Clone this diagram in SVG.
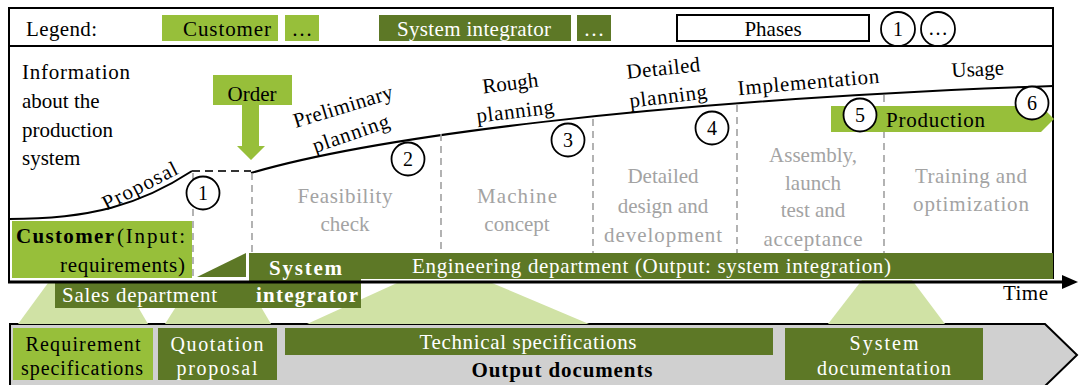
<svg xmlns="http://www.w3.org/2000/svg" width="1079" height="385" viewBox="0 0 1079 385">
<style>
text{font-family:Liberation Serif,Times New Roman,Times,DejaVu Serif,serif;font-size:21px;fill:#000}
.w{fill:#fff}
.g{fill:#a3a3a3}
.b{font-weight:bold}
.m{text-anchor:middle}
.e{text-anchor:end}
.lg{fill:#97bf3a}
.dg{fill:#5d7826}
.pg{fill:#d0e2a5}
.dash{stroke:#a0a0a0;stroke-width:1.6;stroke-dasharray:7 5;fill:none}
.circ{fill:#fff;stroke:#000;stroke-width:1.8}
.num{font-size:20px;text-anchor:middle}
.s20{font-size:20px}
</style>
<rect width="1079" height="385" fill="#fff"/>

<g id="output-band">
<path d="M10 386 V324 H1045 L1077 355 L1045 386 Z" fill="#d0d0d0"/>
<path d="M10 386 V324 H1045 L1077 355 L1045 386" fill="none" stroke="#000" stroke-width="2"/>
<text x="562" y="377" class="m b" textLength="181">Output documents</text>
</g>

<g id="connectors">
<polygon class="pg" points="48,283 124,283 148,324 18,324"/>
<polygon class="pg" points="191,283 247,283 271,324 165,324"/>
<polygon class="pg" points="397,283 492,283 589,324 307,324"/>
<polygon class="pg" points="862,280 912,280 945,324 828,324"/>
<path d="M9 219 C90 219 140 205 192 171" stroke="#000" stroke-width="2" fill="none"/>
<path d="M192 171 H251" stroke="#333" stroke-width="2" stroke-dasharray="8 5" fill="none"/>
<path d="M251 173 C370 138 650 100 1053 86" stroke="#000" stroke-width="2" fill="none"/>
<path class="dash" d="M193 173 V277 M252 173 V253 M441 134 V253 M593 119 V253 M737 105 V253 M884 95 V253"/>
</g>

<g id="doc-requirements">
<rect x="13" y="328" width="140" height="52" class="lg"/>
<text x="83" y="351" class="m s20" textLength="115">Requirement</text>
<text x="82" y="375" class="m s20" textLength="122">specifications</text>
</g>
<g id="doc-quotation">
<rect x="158" y="328" width="119" height="52" class="dg"/>
<text x="217" y="351" class="m w s20" textLength="93">Quotation</text>
<text x="217" y="375" class="m w s20" textLength="81">proposal</text>
</g>
<g id="doc-technical">
<rect x="285" y="328" width="488" height="27" class="dg"/>
<text x="528" y="349" class="m w" textLength="217">Technical specifications</text>
</g>
<g id="doc-system">
<rect x="785" y="328" width="198" height="52" class="dg"/>
<text x="884" y="350" class="m w s20" textLength="69">System</text>
<text x="884" y="375" class="m w s20" textLength="134">documentation</text>
</g>

<g id="legend">
<text x="26" y="36" textLength="71">Legend:</text>
<rect x="162" y="15" width="116" height="26" class="lg"/>
<text x="227" y="36" class="m" textLength="88">Customer</text>
<rect x="285" y="15" width="34" height="26" class="lg"/>
<text x="302" y="36" class="m">…</text>
<rect x="379" y="15" width="192" height="26" class="dg"/>
<text x="474" y="36" class="m w" textLength="154">System integrator</text>
<rect x="577" y="15" width="34" height="26" class="dg"/>
<text x="594" y="36" class="m w">…</text>
<rect x="677" y="15" width="192" height="26" fill="#fff" stroke="#000" stroke-width="2"/>
<text x="773" y="36" class="m">Phases</text>
<circle cx="898" cy="29" r="17" class="circ"/>
<text x="898" y="36" class="num">1</text>
<circle cx="938" cy="29" r="17" class="circ"/>
<text x="938" y="35" class="num">…</text>
</g>

<g id="frame" fill="none" stroke="#000" stroke-width="2">
<path d="M9 282 V8 H1053 V279"/>
<path d="M9 46 H1053"/>
</g>

<g id="info">
<text x="22" y="79" textLength="108">Information</text>
<text x="22" y="108">about the</text>
<text x="22" y="137">production</text>
<text x="22" y="165">system</text>
</g>

<g id="phase-labels">
<text transform="translate(143,192) rotate(-27)" class="m" textLength="82">Proposal</text>
<text transform="translate(345,113) rotate(-17)" class="m" textLength="103">Preliminary</text>
<text transform="translate(353,140) rotate(-19)" class="m" textLength="80">planning</text>
<text transform="translate(511,90) rotate(-7)" class="m">Rough</text>
<text transform="translate(516,118) rotate(-7)" class="m" textLength="78">planning</text>
<text transform="translate(664,75) rotate(-6)" class="m" textLength="74">Detailed</text>
<text transform="translate(669,103) rotate(-7)" class="m" textLength="78">planning</text>
<text transform="translate(809,89) rotate(-5)" class="m" textLength="142">Implementation</text>
<text transform="translate(978,76) rotate(-3)" class="m">Usage</text>
</g>

<g id="activities">
<text x="345" y="203" class="m g" textLength="95">Feasibility</text>
<text x="345" y="231" class="m g">check</text>
<text x="517" y="203" class="m g" textLength="80">Machine</text>
<text x="517" y="231" class="m g">concept</text>
<text x="663" y="183" class="m g">Detailed</text>
<text x="663" y="213" class="m g">design and</text>
<text x="663" y="242" class="m g" textLength="118">development</text>
<text x="813" y="162" class="m g">Assembly,</text>
<text x="813" y="190" class="m g">launch</text>
<text x="813" y="217" class="m g">test and</text>
<text x="813" y="246" class="m g" textLength="99">acceptance</text>
<text x="971" y="183" class="m g" textLength="112">Training and</text>
<text x="971" y="211" class="m g" textLength="116">optimization</text>
</g>

<g id="order">
<rect x="213" y="75" width="79" height="30" class="lg"/>
<text x="252" y="101" class="m">Order</text>
<polygon class="lg" points="242,105 259,105 259,146 265,146 251,160 237,146 242,146"/>
</g>

<g id="production">
<polygon class="lg" points="831,106 1041,106 1054,119 1041,132 831,132"/>
<text x="886" y="127" textLength="99">Production</text>
</g>

<g id="customer">
<rect x="12" y="221" width="180" height="57" class="lg"/>
<text x="16" y="243" class="b" textLength="98">Customer</text>
<text x="117" y="243" textLength="68">(Input:</text>
<text x="185" y="272" class="e" textLength="125">requirements)</text>
</g>

<g id="system-integrator">
<polygon class="dg" points="197,277 246,277 246,253"/>
<rect x="249" y="253" width="804" height="26" class="dg"/>
<rect x="249" y="253" width="112" height="55" class="dg"/>
<rect x="55" y="283" width="306" height="25" class="dg"/>
<text x="269" y="275" class="b w" textLength="73">System</text>
<text x="256" y="302" class="b w" textLength="102">integrator</text>
<text x="62" y="302" class="w" textLength="155">Sales department</text>
<text x="412" y="273" class="w" textLength="479">Engineering department (Output: system integration)</text>
</g>

<g id="time-axis">
<path d="M8 282 H1064" stroke="#000" stroke-width="3"/>
<polygon points="1062,275 1078,282 1062,289" fill="#000"/>
<text x="1003" y="300" textLength="45">Time</text>
</g>

<g id="markers">
<circle cx="203" cy="193" r="16.5" class="circ"/><text x="203" y="200" class="num">1</text>
<circle cx="408" cy="159" r="16.5" class="circ"/><text x="408" y="166" class="num">2</text>
<circle cx="568" cy="140" r="16.5" class="circ"/><text x="568" y="147" class="num">3</text>
<circle cx="712" cy="128" r="16.5" class="circ"/><text x="712" y="135" class="num">4</text>
<circle cx="860" cy="115" r="16.5" class="circ"/><text x="860" y="122" class="num">5</text>
<circle cx="1032" cy="103" r="16.5" class="circ"/><text x="1032" y="110" class="num">6</text>
</g>
</svg>
